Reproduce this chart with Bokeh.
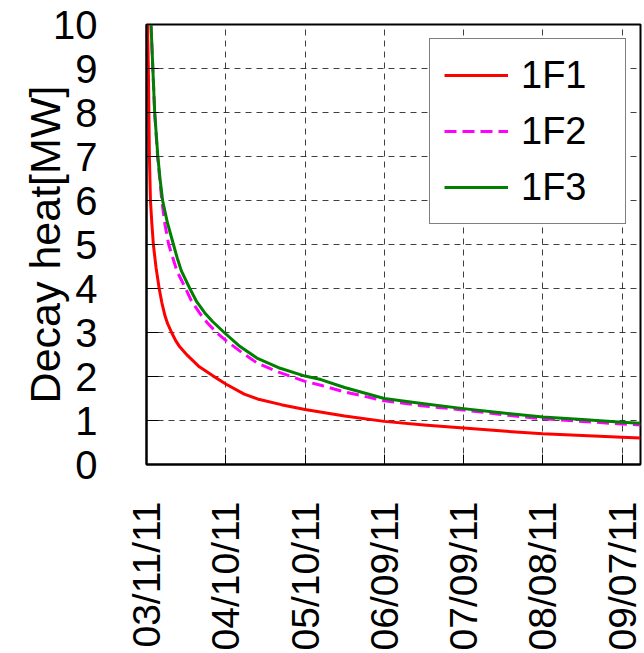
from bokeh.plotting import figure
from bokeh.models import Range1d, FixedTicker, Legend, LegendItem
from bokeh.embed import file_html
from bokeh.resources import INLINE
import math

# Days elapsed since 03/11/11
tick_days = [0, 30, 60, 90, 120, 150, 180]
tick_labels = ["03/11/11", "04/10/11", "05/10/11", "06/09/11", "07/09/11", "08/08/11", "09/07/11"]

f1_days = [0.4, 0.7, 0.9, 1.1, 1.5, 2.0, 2.6, 3.6, 4.8, 5.8, 7.0, 8.0, 9.5, 11, 12.5, 15.5, 20, 25,
           30, 37, 42, 51, 60, 75, 90, 105, 120, 135, 150, 165, 180, 187]
f1_heat = [10.0, 9.0, 8.0, 7.0, 6.0, 5.5, 5.0, 4.48, 4.0, 3.68, 3.38, 3.2, 3.0, 2.82, 2.68, 2.48, 2.22, 2.02,
           1.83, 1.6, 1.49, 1.36, 1.25, 1.1, 0.98, 0.9, 0.83, 0.76, 0.70, 0.66, 0.62, 0.60]

f2_days = [1.7, 2.4, 3.1, 4.2, 5.8, 7.0, 8.4, 11.5, 14.8, 17, 20, 23, 26.5, 30, 36, 42, 50, 60, 66,
           75, 90, 105, 120, 135, 150, 165, 180, 187]
f2_heat = [10.0, 9.0, 8.0, 7.0, 6.0, 5.45, 5.0, 4.4, 4.0, 3.72, 3.45, 3.22, 3.0, 2.82, 2.55, 2.30, 2.1, 1.89, 1.80,
           1.65, 1.45, 1.33, 1.24, 1.13, 1.04, 0.98, 0.92, 0.90]

f3_days = [1.7, 2.4, 3.1, 4.3, 5.1, 6.1, 7.9, 10.2, 11.6, 13.2, 16.4, 19, 22, 25, 29.4, 35, 41.8, 50, 60, 66,
           75, 90, 105, 120, 135, 150, 165, 180, 187]
f3_heat = [10.0, 9.0, 8.0, 7.0, 6.5, 6.0, 5.5, 5.0, 4.7, 4.4, 4.0, 3.7, 3.45, 3.25, 3.0, 2.7, 2.42, 2.2, 2.01, 1.93,
           1.75, 1.5, 1.38, 1.27, 1.17, 1.08, 1.02, 0.96, 0.94]

y_ticks = list(range(0, 11))

FONT = "Liberation Sans"

p = figure(frame_width=494, frame_height=440,
           min_border_left=146, min_border_right=4, min_border_top=24, min_border_bottom=189,
           x_range=Range1d(0, 187), y_range=Range1d(0, 10),
           output_backend="svg", toolbar_location=None)

p.background_fill_color = "white"
p.border_fill_color = "white"
p.outline_line_color = "black"
p.outline_line_width = 2

r1 = p.line(f1_days, f1_heat, line_color="#ff0000", line_width=3, line_join="round")
r2 = p.line(f2_days, f2_heat, line_color="#ff00ff", line_width=3, line_dash="12 6")
r3 = p.line(f3_days, f3_heat, line_color="#008000", line_width=3, line_join="round")

# axes
xa = p.xaxis[0]
xa.ticker = FixedTicker(ticks=tick_days)
xa.major_label_overrides = {d: l for d, l in zip(tick_days, tick_labels)}
xa.major_label_orientation = math.pi / 2
xa.major_label_text_font = FONT
xa.major_label_text_font_size = "39px"
xa.major_label_text_color = "black"
xa.major_label_standoff = 37
xa.major_tick_in = 10
xa.major_tick_out = 0
xa.minor_tick_line_color = None
xa.major_tick_line_color = "black"
xa.axis_line_color = "black"
xa.axis_line_width = 2

ya = p.yaxis[0]
ya.ticker = FixedTicker(ticks=y_ticks)
ya.major_label_text_font = FONT
ya.major_label_text_font_size = "40px"
ya.major_label_text_color = "black"
ya.major_label_standoff = 49
ya.major_tick_in = 12
ya.major_tick_out = 0
ya.minor_tick_line_color = None
ya.major_tick_line_color = "black"
ya.axis_line_color = "black"
ya.axis_line_width = 2
ya.axis_label = "Decay heat[MW]"
ya.axis_label_text_font = FONT
ya.axis_label_text_font_size = "43px"
ya.axis_label_text_font_style = "normal"
ya.axis_label_text_color = "black"
ya.axis_label_standoff = -19

for g in (p.xgrid[0], p.ygrid[0]):
    g.grid_line_color = "black"
    g.grid_line_alpha = 0.75
    g.grid_line_dash = "6 5"
    g.grid_line_width = 1

legend = Legend(items=[LegendItem(label="1F1", renderers=[r1]),
                       LegendItem(label="1F2", renderers=[r2]),
                       LegendItem(label="1F3", renderers=[r3])],
                location="top_right")
legend.margin = 14
legend.padding = 14
legend.spacing = 12
legend.glyph_width = 64
legend.glyph_height = 44
legend.label_height = 44
legend.label_width = 90
legend.label_standoff = 13
legend.label_text_font = FONT
legend.label_text_font_size = "38px"
legend.label_text_color = "black"
legend.border_line_color = "black"
legend.border_line_width = 1
legend.background_fill_color = "white"
legend.background_fill_alpha = 1.0
p.add_layout(legend, "center")

open("out.html", "w").write(file_html(p, INLINE))
